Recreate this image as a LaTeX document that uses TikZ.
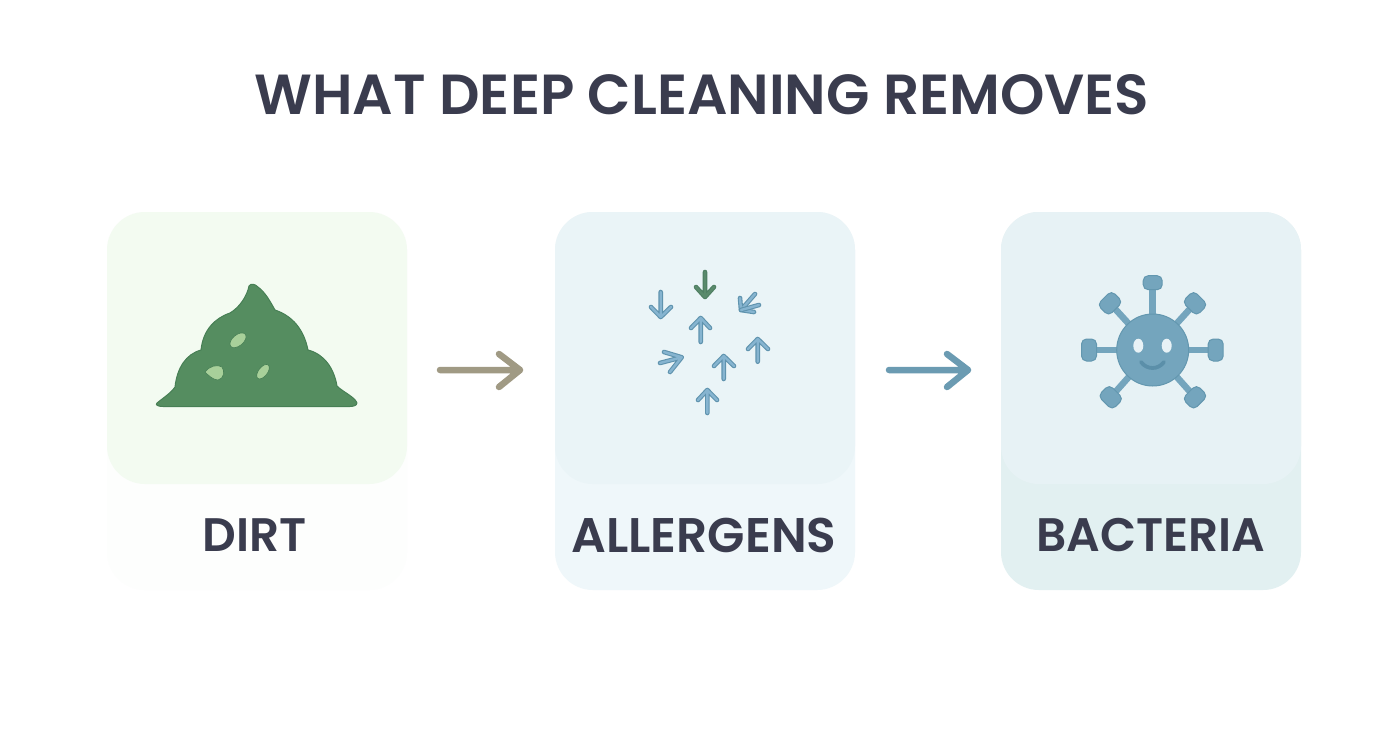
\documentclass[tikz,border=0pt]{standalone}
\usepackage{fontspec}
\setmainfont{Poppins}[BoldFont={Poppins SemiBold}]
\definecolor{ink}{HTML}{3A3C4E}
\definecolor{dirtfill}{HTML}{558D60}
\definecolor{dirtline}{HTML}{477F55}
\definecolor{speck}{HTML}{A8D09A}
\definecolor{virus}{HTML}{74A5BD}
\definecolor{virusline}{HTML}{6397AF}
\definecolor{viruseye}{HTML}{E8F2F6}
\definecolor{smile}{HTML}{5B8FA9}
\definecolor{tanline}{HTML}{A09A84}
\definecolor{steel}{HTML}{6B9BB2}
\definecolor{dirtlow}{HTML}{FDFEFD}
\definecolor{dirthigh}{HTML}{F3FBF1}
\definecolor{allerlow}{HTML}{EFF7FA}
\definecolor{allerhigh}{HTML}{EAF4F7}
\definecolor{baclow}{HTML}{E2F0F1}
\definecolor{bachigh}{HTML}{E7F2F5}
\tikzset{
  cardshape/.style={rounded corners=38pt,draw=none},
  labeltext/.style={text=ink,font=\fontsize{47}{52}\selectfont\bfseries,inner sep=0pt},
  bigarrow/.style={line width=6.5pt,line cap=round,line join=round},
  spike/.style={draw=virusline,fill=virus,line width=1pt,rounded corners=5pt},
  stem/.style={virus,line width=6.5pt},
  speckline/.style={draw=dirtline,fill=speck,line width=0.6pt},
}
\begin{document}
\begin{tikzpicture}[x=1pt,y=-1pt]
\useasboundingbox (0,0) rectangle (1392,752);
\fill[white] (0,0) rectangle (1392,752);

\node[text=ink,font=\fontsize{56.5}{60}\selectfont\bfseries,inner sep=0pt] (title) at (702,95) {WHAT DEEP CLEANING REMOVES};

% cards
\fill[cardshape,fill=dirtlow] (107,212) rectangle (407,590);
\fill[cardshape,fill=dirthigh] (107,212) rectangle (407,484);
\fill[cardshape,fill=allerlow] (555,212) rectangle (855,590);
\fill[cardshape,fill=allerhigh] (555,212) rectangle (855,484);
\fill[cardshape,fill=baclow] (1001,212) rectangle (1301,590);
\fill[cardshape,fill=bachigh] (1001,212) rectangle (1301,484);

\node[labeltext] (dirt) at (255,535) {DIRT};
\node[labeltext,font=\fontsize{48.6}{52}\selectfont\bfseries] (allergens) at (704,535) {ALLERGENS};
\node[labeltext] (bacteria) at (1151,535) {BACTERIA};

% connectors
\coordinate (a1s) at (440,370);
\coordinate (a1e) at (520,370);
\coordinate (a2s) at (889,370);
\coordinate (a2e) at (968,370);
\draw[bigarrow,tanline] (a1s) -- (a1e) (499,354) -- (a1e) -- (499,387);
\draw[bigarrow,steel] (a2s) -- (a2e) (947,354) -- (a2e) -- (947,387);

% dirt
\draw[draw=dirtline,fill=dirtfill,line width=1pt,line join=round]
 (157,403) .. controls (163,398) and (171,393) .. (175,387)
 .. controls (177,368) and (186,354) .. (201,350)
 .. controls (203,330) and (215,318) .. (230,313)
 .. controls (240,307) and (247,296) .. (249,286)
 .. controls (251,283) and (255,284) .. (258,287)
 .. controls (265,292) and (270,301) .. (275,310)
 .. controls (293,316) and (304,330) .. (308,350)
 .. controls (324,354) and (334,368) .. (337,386)
 .. controls (343,392) and (355,397) .. (357,403)
 .. controls (357,406) and (352,406.5) .. (350,406.5)
 -- (163,406.5) .. controls (158,406.5) and (155,405) .. (157,403) -- cycle;
\draw[speckline,rotate around={40:(238,340.3)}] (238,340.3) ellipse (9.5 and 5.5);
\draw[speckline] (205,372) .. controls (209,366) and (218,364) .. (222,367) .. controls (225,371) and (224,379) .. (218,380) .. controls (213,380) and (208,375) .. (205,372) -- cycle;
\draw[speckline,rotate around={52:(263,371.7)}] (263,371.7) ellipse (8.5 and 4.5);

% allergens
\foreach \tx/\ty/\hx/\hy/\ax/\ay/\bx/\by/\dk/\lt in {
 705/272/705/297/696/287/714/287/4F7F63/5A8A6C,
 660.7/292/660.7/317/651/307/671/307/5F93AE/86B4D0,
 700.7/342/700.7/318/691/328/710/328/5F93AE/86B4D0,
 757.7/361.7/757.7/339/748/349/768/349/5F93AE/86B4D0,
 660/363/681.7/357.3/664/352/670/372/5F93AE/86B4D0,
 723.7/379/723.7/356/714/366/734/366/5F93AE/86B4D0,
 707.3/413/707.3/390/698/400/717/400/5F93AE/86B4D0,
 755/294/741/310/740/298/754/312/5F93AE/86B4D0,
 759/305/741/310/741/310/741/310/5F93AE/86B4D0}
{
 \definecolor{cc}{HTML}{\dk}\definecolor{dd}{HTML}{\lt}
 \draw[cc,line width=4.6pt,line cap=round,line join=round] (\tx,\ty) -- (\hx,\hy) (\ax,\ay) -- (\hx,\hy) -- (\bx,\by);
 \draw[dd,line width=2.4pt,line cap=round,line join=round] (\tx,\ty) -- (\hx,\hy) (\ax,\ay) -- (\hx,\hy) -- (\bx,\by);
}

% bacteria
\foreach \x/\y/\r/\wd/\ht in {
 1152.7/282.7/0/19/14, 1089/350/0/15/22, 1215.7/350/0/15/22,
 1110/303.3/45/20/16, 1195/303.3/-45/20/16, 1110.7/397.3/-45/20/16, 1195/397.3/45/20/16}
{
 \draw[stem] (1152.7,350) -- (\x,\y);
 \draw[spike,rotate around={\r:(\x,\y)}] (\x-\wd/2,\y-\ht/2) rectangle (\x+\wd/2,\y+\ht/2);
}
\draw[draw=virusline,fill=virus,line width=1pt] (1152.7,350) circle (36);
\fill[viruseye] (1138.3,345.7) ellipse (5 and 7);
\fill[viruseye] (1166.7,345.7) ellipse (5 and 7);
\draw[smile,line width=3.8pt,line cap=round] (1141,362) .. controls (1147,370) and (1158,370) .. (1164,362);
\end{tikzpicture}
\end{document}
